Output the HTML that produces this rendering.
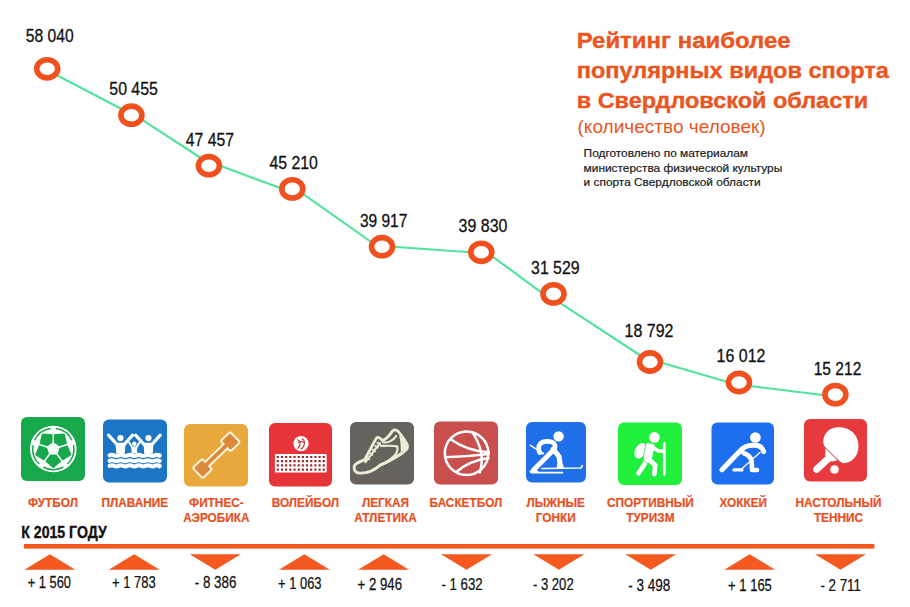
<!DOCTYPE html>
<html><head><meta charset="utf-8"><style>
html,body{margin:0;padding:0;background:#fff;}
body{width:910px;height:607px;overflow:hidden;position:relative;}
svg{position:absolute;left:0;top:0;}
</style></head><body>
<svg width="910" height="607" viewBox="0 0 910 607" font-family='"Liberation Sans", sans-serif'>

<path d="M57.4,75.5 L121.1,108.8 M141.5,119.4 L201.7,158.5 M219.7,165.6 L280.9,188.3 M302.6,193.6 L371.2,242.0 M392.9,246.8 L470.4,252.2 M491.6,255.8 L541.8,292.8 M559.2,302.4 L641.1,356.0 M660.8,362.5 L729.3,382.6 M749.7,386.0 L825.0,395.3 " fill="none" stroke="#4fe39c" stroke-width="2.1" stroke-linecap="round"/>
<ellipse cx="47.2" cy="68.8" rx="10.5" ry="9.1" fill="#fff" stroke="#f04f1e" stroke-width="5.6"/>
<ellipse cx="131.4" cy="115.2" rx="10.5" ry="9.1" fill="#fff" stroke="#f04f1e" stroke-width="5.6"/>
<ellipse cx="208.9" cy="165.7" rx="10.5" ry="9.1" fill="#fff" stroke="#f04f1e" stroke-width="5.6"/>
<ellipse cx="292.3" cy="188.9" rx="10.5" ry="9.1" fill="#fff" stroke="#f04f1e" stroke-width="5.6"/>
<ellipse cx="382.0" cy="246.7" rx="10.5" ry="9.1" fill="#fff" stroke="#f04f1e" stroke-width="5.6"/>
<ellipse cx="481.3" cy="252.3" rx="10.5" ry="9.1" fill="#fff" stroke="#f04f1e" stroke-width="5.6"/>
<ellipse cx="553.5" cy="293.9" rx="10.5" ry="9.1" fill="#fff" stroke="#f04f1e" stroke-width="5.6"/>
<ellipse cx="650.0" cy="362.0" rx="10.5" ry="9.1" fill="#fff" stroke="#f04f1e" stroke-width="5.6"/>
<ellipse cx="739.0" cy="382.5" rx="10.5" ry="9.1" fill="#fff" stroke="#f04f1e" stroke-width="5.6"/>
<ellipse cx="835.4" cy="394.6" rx="10.5" ry="9.1" fill="#fff" stroke="#f04f1e" stroke-width="5.6"/>
<text transform="translate(25.7,41.5) scale(0.842,1)" font-size="18.6" fill="#111" stroke="#111" stroke-width="0.3">58 040</text>
<text transform="translate(109.3,94.7) scale(0.854,1)" font-size="18.6" fill="#111" stroke="#111" stroke-width="0.3">50 455</text>
<text transform="translate(185.8,145.7) scale(0.849,1)" font-size="18.6" fill="#111" stroke="#111" stroke-width="0.3">47 457</text>
<text transform="translate(269.4,168.9) scale(0.851,1)" font-size="18.6" fill="#111" stroke="#111" stroke-width="0.3">45 210</text>
<text transform="translate(359.9,226.9) scale(0.835,1)" font-size="18.6" fill="#111" stroke="#111" stroke-width="0.3">39 917</text>
<text transform="translate(458.6,232.2) scale(0.858,1)" font-size="18.6" fill="#111" stroke="#111" stroke-width="0.3">39 830</text>
<text transform="translate(531.1,274.4) scale(0.852,1)" font-size="18.6" fill="#111" stroke="#111" stroke-width="0.3">31 529</text>
<text transform="translate(624.6,337.1) scale(0.858,1)" font-size="18.6" fill="#111" stroke="#111" stroke-width="0.3">18 792</text>
<text transform="translate(716.6,362.3) scale(0.858,1)" font-size="18.6" fill="#111" stroke="#111" stroke-width="0.3">16 012</text>
<text transform="translate(813.7,375.0) scale(0.838,1)" font-size="18.6" fill="#111" stroke="#111" stroke-width="0.3">15 212</text>
<g fill="#ea5520" stroke="#ea5520" stroke-width="0.35" font-weight="bold" font-size="21.5">
<text transform="translate(576.7,48.2) scale(1.115,1)">Рейтинг наиболее</text>
<text transform="translate(576.7,78.1) scale(1.095,1)">популярных видов спорта</text>
<text transform="translate(576.7,108.0) scale(1.092,1)">в Свердловской области</text>
</g>
<text transform="translate(577.5,133.0) scale(1.058,1)" font-size="18" fill="#ea5520">(количество человек)</text>
<g fill="#1a1a1a" stroke="#1a1a1a" stroke-width="0.2" font-size="11">
<text transform="translate(583.6,157.3) scale(1.08,1)">Подготовлено по материалам</text>
<text transform="translate(583.6,171.8) scale(1.08,1)">министерства физической культуры</text>
<text transform="translate(583.6,186.3) scale(1.08,1)">и спорта Свердловской области</text>
</g>
<g transform="translate(21.0,417.0)"><rect width="64.0" height="64.0" rx="6" fill="#17a84b"/><circle cx="32.3" cy="32.0" r="23.3" fill="#fff"/><path d="M34.81,11.55 A20.6,20.6 0 0 1 50.97,23.29" fill="none" stroke="#17a84b" stroke-width="1.5"/><path d="M52.52,28.07 A20.6,20.6 0 0 1 46.35,47.07" fill="none" stroke="#17a84b" stroke-width="1.5"/><path d="M42.29,50.02 A20.6,20.6 0 0 1 22.31,50.02" fill="none" stroke="#17a84b" stroke-width="1.5"/><path d="M18.25,47.07 A20.6,20.6 0 0 1 12.08,28.07" fill="none" stroke="#17a84b" stroke-width="1.5"/><path d="M13.63,23.29 A20.6,20.6 0 0 1 29.79,11.55" fill="none" stroke="#17a84b" stroke-width="1.5"/><polygon points="32.30,26.10 37.91,30.18 45.61,27.67 43.12,17.11 32.30,18.00" fill="#17a84b" stroke="#17a84b" stroke-width="1.3" stroke-linejoin="round"/><polygon points="37.91,30.18 35.77,36.77 40.53,43.33 49.80,37.69 45.61,27.67" fill="#17a84b" stroke="#17a84b" stroke-width="1.3" stroke-linejoin="round"/><polygon points="35.77,36.77 28.83,36.77 24.07,43.33 32.30,50.40 40.53,43.33" fill="#17a84b" stroke="#17a84b" stroke-width="1.3" stroke-linejoin="round"/><polygon points="28.83,36.77 26.69,30.18 18.99,27.67 14.80,37.69 24.07,43.33" fill="#17a84b" stroke="#17a84b" stroke-width="1.3" stroke-linejoin="round"/><polygon points="26.69,30.18 32.30,26.10 32.30,18.00 21.48,17.11 18.99,27.67" fill="#17a84b" stroke="#17a84b" stroke-width="1.3" stroke-linejoin="round"/><polygon points="32.30,26.10 37.91,30.18 35.77,36.77 28.83,36.77 26.69,30.18" fill="none" stroke="#fff" stroke-width="1.7"/><path d="M32.30,26.10 L32.30,9.00" stroke="#fff" stroke-width="1.5"/><path d="M37.91,30.18 L54.17,24.89" stroke="#fff" stroke-width="1.5"/><path d="M35.77,36.77 L45.82,50.61" stroke="#fff" stroke-width="1.5"/><path d="M28.83,36.77 L18.78,50.61" stroke="#fff" stroke-width="1.5"/><path d="M26.69,30.18 L10.43,24.89" stroke="#fff" stroke-width="1.5"/></g>
<g transform="translate(103.0,419.5)"><rect width="64.0" height="63.0" rx="6" fill="#1b77c5"/><circle cx="17.4" cy="18.6" r="3.1" fill="#fff"/><path d="M5.5,15.6 L14.5,25.5 M29.6,15.6 L20.8,25.5" stroke="#fff" stroke-width="3.2" stroke-linecap="round" fill="none"/><path d="M12.6,23.3 L22.4,23.3 L21.9,34 L13.2,34 Z" fill="#fff"/><circle cx="45.5" cy="18.6" r="3.1" fill="#fff"/><path d="M32.6,15.6 L41.5,25.5 M57.2,15.6 L48.5,25.5" stroke="#fff" stroke-width="3.2" stroke-linecap="round" fill="none"/><path d="M40.6,23.3 L50.4,23.3 L49.9,34 L41.2,34 Z" fill="#fff"/><circle cx="31.3" cy="24.3" r="2.2" fill="#fff"/><path d="M26.3,23.2 L29.3,28 M36.3,23.2 L33.3,28" stroke="#fff" stroke-width="2.1" stroke-linecap="round" fill="none"/><path d="M28.3,27 L34.3,27 L34,34 L28.6,34 Z" fill="#fff"/><path d="M6.60,35.90 Q8.85,34.80 11.10,35.90 Q13.35,37.00 15.60,35.90 Q17.85,34.80 20.10,35.90 Q22.35,37.00 24.60,35.90 Q26.85,34.80 29.10,35.90 Q31.35,37.00 33.60,35.90 Q35.85,34.80 38.10,35.90 Q40.35,37.00 42.60,35.90 Q44.85,34.80 47.10,35.90 Q49.35,37.00 51.60,35.90 Q53.85,34.80 56.10,35.90 Q56.45,37.00 56.80,35.90" stroke="#fff" stroke-width="4.0" stroke-linecap="round" fill="none"/><path d="M6.60,41.30 Q8.85,40.20 11.10,41.30 Q13.35,42.40 15.60,41.30 Q17.85,40.20 20.10,41.30 Q22.35,42.40 24.60,41.30 Q26.85,40.20 29.10,41.30 Q31.35,42.40 33.60,41.30 Q35.85,40.20 38.10,41.30 Q40.35,42.40 42.60,41.30 Q44.85,40.20 47.10,41.30 Q49.35,42.40 51.60,41.30 Q53.85,40.20 56.10,41.30 Q56.45,42.40 56.80,41.30" stroke="#fff" stroke-width="4.0" stroke-linecap="round" fill="none"/><path d="M6.60,46.40 Q8.85,45.30 11.10,46.40 Q13.35,47.50 15.60,46.40 Q17.85,45.30 20.10,46.40 Q22.35,47.50 24.60,46.40 Q26.85,45.30 29.10,46.40 Q31.35,47.50 33.60,46.40 Q35.85,45.30 38.10,46.40 Q40.35,47.50 42.60,46.40 Q44.85,45.30 47.10,46.40 Q49.35,47.50 51.60,46.40 Q53.85,45.30 56.10,46.40 Q56.45,47.50 56.80,46.40" stroke="#fff" stroke-width="4.0" stroke-linecap="round" fill="none"/></g>
<g transform="translate(184.0,424.0)"><rect width="64.0" height="62.5" rx="6" fill="#e9a83b"/><g transform="translate(32.4,31.1) rotate(-44)"><g fill="#fdf3dc" stroke="#fdf3dc" stroke-width="4" stroke-linejoin="round"><rect x="-16" y="-1.9" width="32" height="3.8"/><rect x="13.8" y="-6.2" width="11.2" height="12.4" rx="1"/><rect x="-25" y="-6.2" width="11.2" height="12.4" rx="1"/></g><g fill="#da8a3c"><rect x="-16" y="-1.9" width="32" height="3.8"/><rect x="13.8" y="-6.2" width="11.2" height="12.4" rx="1"/><rect x="-25" y="-6.2" width="11.2" height="12.4" rx="1"/></g></g></g>
<g transform="translate(269.0,423.0)"><rect width="63.0" height="63.5" rx="6" fill="#e63439"/><circle cx="32" cy="20.6" r="7.6" fill="#fff"/><g fill="none" stroke="#b8383a" stroke-width="1.1" stroke-linecap="round"><path d="M28.6,16.8 C30.5,17.5 31.5,19.5 30.8,22 C30.3,23.8 29.5,24.8 28.6,25.2"/><path d="M33.2,15.8 C35.5,17.3 35.8,20.5 34.6,23.2 C34,24.5 33,25.5 31.8,26"/><path d="M29.2,19.3 C30.8,18.4 32.8,18.4 34.8,19.3"/></g><rect x="5.9" y="31.1" width="51.8" height="18.5" rx="1" fill="#fff"/><g fill="#9a2428"><rect x="7.70" y="32.90" width="2.2" height="2.2" rx="0.4"/><rect x="11.88" y="32.90" width="2.2" height="2.2" rx="0.4"/><rect x="16.06" y="32.90" width="2.2" height="2.2" rx="0.4"/><rect x="20.24" y="32.90" width="2.2" height="2.2" rx="0.4"/><rect x="24.42" y="32.90" width="2.2" height="2.2" rx="0.4"/><rect x="28.60" y="32.90" width="2.2" height="2.2" rx="0.4"/><rect x="32.78" y="32.90" width="2.2" height="2.2" rx="0.4"/><rect x="36.96" y="32.90" width="2.2" height="2.2" rx="0.4"/><rect x="41.14" y="32.90" width="2.2" height="2.2" rx="0.4"/><rect x="45.32" y="32.90" width="2.2" height="2.2" rx="0.4"/><rect x="49.50" y="32.90" width="2.2" height="2.2" rx="0.4"/><rect x="53.68" y="32.90" width="2.2" height="2.2" rx="0.4"/><rect x="7.70" y="37.10" width="2.2" height="2.2" rx="0.4"/><rect x="11.88" y="37.10" width="2.2" height="2.2" rx="0.4"/><rect x="16.06" y="37.10" width="2.2" height="2.2" rx="0.4"/><rect x="20.24" y="37.10" width="2.2" height="2.2" rx="0.4"/><rect x="24.42" y="37.10" width="2.2" height="2.2" rx="0.4"/><rect x="28.60" y="37.10" width="2.2" height="2.2" rx="0.4"/><rect x="32.78" y="37.10" width="2.2" height="2.2" rx="0.4"/><rect x="36.96" y="37.10" width="2.2" height="2.2" rx="0.4"/><rect x="41.14" y="37.10" width="2.2" height="2.2" rx="0.4"/><rect x="45.32" y="37.10" width="2.2" height="2.2" rx="0.4"/><rect x="49.50" y="37.10" width="2.2" height="2.2" rx="0.4"/><rect x="53.68" y="37.10" width="2.2" height="2.2" rx="0.4"/><rect x="7.70" y="41.30" width="2.2" height="2.2" rx="0.4"/><rect x="11.88" y="41.30" width="2.2" height="2.2" rx="0.4"/><rect x="16.06" y="41.30" width="2.2" height="2.2" rx="0.4"/><rect x="20.24" y="41.30" width="2.2" height="2.2" rx="0.4"/><rect x="24.42" y="41.30" width="2.2" height="2.2" rx="0.4"/><rect x="28.60" y="41.30" width="2.2" height="2.2" rx="0.4"/><rect x="32.78" y="41.30" width="2.2" height="2.2" rx="0.4"/><rect x="36.96" y="41.30" width="2.2" height="2.2" rx="0.4"/><rect x="41.14" y="41.30" width="2.2" height="2.2" rx="0.4"/><rect x="45.32" y="41.30" width="2.2" height="2.2" rx="0.4"/><rect x="49.50" y="41.30" width="2.2" height="2.2" rx="0.4"/><rect x="53.68" y="41.30" width="2.2" height="2.2" rx="0.4"/><rect x="7.70" y="45.50" width="2.2" height="2.2" rx="0.4"/><rect x="11.88" y="45.50" width="2.2" height="2.2" rx="0.4"/><rect x="16.06" y="45.50" width="2.2" height="2.2" rx="0.4"/><rect x="20.24" y="45.50" width="2.2" height="2.2" rx="0.4"/><rect x="24.42" y="45.50" width="2.2" height="2.2" rx="0.4"/><rect x="28.60" y="45.50" width="2.2" height="2.2" rx="0.4"/><rect x="32.78" y="45.50" width="2.2" height="2.2" rx="0.4"/><rect x="36.96" y="45.50" width="2.2" height="2.2" rx="0.4"/><rect x="41.14" y="45.50" width="2.2" height="2.2" rx="0.4"/><rect x="45.32" y="45.50" width="2.2" height="2.2" rx="0.4"/><rect x="49.50" y="45.50" width="2.2" height="2.2" rx="0.4"/><rect x="53.68" y="45.50" width="2.2" height="2.2" rx="0.4"/></g></g>
<g transform="translate(350.0,422.0)"><rect width="64.0" height="62.5" rx="6" fill="#67625d"/><path d="M4.08,45.16 C4.08,41.98 8.16,40.17 14.51,37.90 L26.29,16.15 C27.65,14.79 30.37,15.69 32.18,18.41 C36.26,17.96 39.89,12.97 42.61,8.89 C45.33,6.63 48.50,8.44 51.22,13.43 C55.30,18.87 58.93,23.40 57.12,26.57 C53.49,31.11 40.80,39.26 29.92,43.34 C25.39,47.42 18.13,51.50 9.07,51.05 C5.44,50.60 4.08,48.33 4.08,45.16 Z" fill="none" stroke="#efebd6" stroke-width="2.8" stroke-linejoin="round"/><path d="M48.96,12.97 C54.40,18.41 58.02,22.95 57.12,26.12 L50.77,30.20 C50.77,25.67 50.77,19.32 48.96,12.97 Z" fill="#efebd6"/><path d="M20.85,50.14 C27.20,45.61 40.80,39.26 54.40,30.20 L50.77,30.20 C40.80,36.54 29.92,41.08 20.85,50.14 Z" fill="#efebd6"/><path d="M15.41,40.17 L29.92,21.13" stroke="#efebd6" stroke-width="2.2" fill="none" stroke-linecap="round"/><path d="M15.87,35.18 L19.95,37.90" stroke="#efebd6" stroke-width="1.6"/><path d="M19.04,30.65 L23.12,33.37" stroke="#efebd6" stroke-width="1.6"/><path d="M21.76,27.03 L25.84,29.75" stroke="#efebd6" stroke-width="1.6"/><path d="M24.48,23.40 L28.56,26.12" stroke="#efebd6" stroke-width="1.6"/><path d="M26.75,20.23 L30.83,22.95" stroke="#efebd6" stroke-width="1.6"/><path d="M30.83,23.85 C36.26,23.85 43.52,23.40 47.14,24.31 C48.96,30.20 43.52,37.45 29.92,42.89" stroke="#efebd6" stroke-width="2.2" fill="none" stroke-linecap="round"/><path d="M33.09,20.23 C38.08,21.13 43.52,18.41 46.24,13.88" stroke="#efebd6" stroke-width="2.0" fill="none" stroke-linecap="round"/></g>
<g transform="translate(434.0,421.6)"><rect width="64.0" height="63.0" rx="6" fill="#c94f4f"/><g fill="none" stroke="#fff" stroke-width="2.5" stroke-linecap="round"><circle cx="32.6" cy="31.6" r="21.8"/><path d="M11,35.6 Q33,35 54.5,32.3"/><path d="M16.2,17.5 Q34,30 54.8,30.6"/><path d="M22.6,50.2 Q36,39 54.6,36.5"/><path d="M38.3,10.5 Q52,31 45.8,50.8"/></g></g>
<g transform="translate(526.0,422.0)"><rect width="60.0" height="60.5" rx="6" fill="#1f70e9"/><circle cx="32.6" cy="14.4" r="5.2" fill="#fff"/><path d="M4.3,23.3 L17.5,31.5" stroke="#fff" stroke-width="1.4" stroke-linecap="round"/><path d="M13.8,30.6 C12.4,28 12,24 14.6,21.4 C17,19 23,18.8 26.6,20.4 C29.5,21.8 29.6,25 28,27.5 L7.5,48" stroke="#fff" stroke-width="4.8" fill="none" stroke-linecap="round" stroke-linejoin="round"/><path d="M13.5,30.8 L16.5,31.3" stroke="#fff" stroke-width="2.2" stroke-linecap="round"/><path d="M27.2,27.2 L33,34.5 L34.3,43.5" stroke="#fff" stroke-width="5.2" fill="none" stroke-linecap="round" stroke-linejoin="round"/><path d="M31.3,42 L37,42.3 L38,46.4 L30.6,46.4 Z" fill="#fff"/><path d="M5.5,50.6 L36.5,50.6" stroke="#fff" stroke-width="1.6" stroke-linecap="round"/><path d="M4.8,49.6 L11,49.6" stroke="#fff" stroke-width="2.6" stroke-linecap="round"/><path d="M16,46.5 L55,46 L56.3,43.6" stroke="#fff" stroke-width="1.6" fill="none" stroke-linecap="round" stroke-linejoin="round"/></g>
<g transform="translate(618.0,422.5)"><rect width="64.0" height="62.5" rx="6" fill="#20ef3c"/><circle cx="36.4" cy="14.9" r="5.3" fill="#fff"/><ellipse cx="22.3" cy="28.3" rx="5.2" ry="8.3" transform="rotate(25 22.3 28.3)" fill="#fff"/><path d="M28.5,20.8 L34.5,21.2 C36.5,21.5 37,23.5 36.3,25.5 L33.2,38.5 C32.5,40.5 30,41 28,40 L25.5,38 C25,33 26.5,26 27.5,22 Z" fill="#fff"/><path d="M34.8,24.6 L40.5,28.8 L45.5,28.5" stroke="#fff" stroke-width="3.6" fill="none" stroke-linecap="round" stroke-linejoin="round"/><path d="M46.3,21 L46.3,52" stroke="#fff" stroke-width="2.8" stroke-linecap="round"/><path d="M28.5,38.5 L20.5,50.8" stroke="#fff" stroke-width="4.8" stroke-linecap="round"/><path d="M31.5,37.5 L37.3,42.8 L36.3,51.5" stroke="#fff" stroke-width="4.8" fill="none" stroke-linecap="round" stroke-linejoin="round"/><path d="M27.8,21.5 L25,37 L30,41.5" stroke="#16b52e" stroke-width="0.55" fill="none"/></g>
<g transform="translate(711.5,422.5)"><rect width="62.5" height="62.0" rx="6" fill="#1e6ff0"/><circle cx="43.9" cy="15" r="5.35" fill="#fff"/><path d="M10.5,47.2 L29,28 C33,23.5 38,22.5 43,22.8 C48,23 51,25 52.2,29" stroke="#fff" stroke-width="5" fill="none" stroke-linecap="round" stroke-linejoin="round"/><path d="M32,30.5 C36.5,32 39.5,35 40.2,39 L40.5,47.5 L45.5,47.5" stroke="#fff" stroke-width="4.6" fill="none" stroke-linecap="round" stroke-linejoin="round"/><path d="M48.5,30 L29.5,47" stroke="#fff" stroke-width="1.3" stroke-linecap="round"/><path d="M22.5,47.4 L30.5,47.4" stroke="#fff" stroke-width="3.2" stroke-linecap="round"/></g>
<g transform="translate(804.0,419.0)"><rect width="63.0" height="62.5" rx="6" fill="#e63a3f"/><path d="M20.5,27.5 C17,20 22,9 33,8.3 C45,7.5 54.5,15 54.5,27 C54.5,37 48,44 40,44.2 C37,44.3 35.5,42 33.5,40 Z" fill="#fff"/><path d="M21.5,28.5 L34,41 L29,42.5 L24,42 L21.2,36.5 Z" fill="#fff"/><path d="M26,38 L12.6,50.3" stroke="#fff" stroke-width="7" stroke-linecap="round"/><path d="M20.8,28.2 L34,41.5" stroke="#b02a2e" stroke-width="0.8"/><circle cx="30.5" cy="50.5" r="4.3" fill="#fff"/></g>
<g fill="#e8511f" stroke="#e8511f" stroke-width="0.2" font-weight="bold" font-size="12" text-anchor="middle">
<text transform="translate(53.0,507.3) scale(0.985,1)">ФУТБОЛ</text>
<text transform="translate(134.9,507.3) scale(0.985,1)">ПЛАВАНИЕ</text>
<text transform="translate(216.4,507.3) scale(0.985,1)">ФИТНЕС-</text>
<text transform="translate(216.4,522.3) scale(0.985,1)">АЭРОБИКА</text>
<text transform="translate(305.4,507.3) scale(0.985,1)">ВОЛЕЙБОЛ</text>
<text transform="translate(385.5,507.3) scale(0.985,1)">ЛЕГКАЯ</text>
<text transform="translate(385.5,522.3) scale(0.985,1)">АТЛЕТИКА</text>
<text transform="translate(466.0,507.3) scale(0.985,1)">БАСКЕТБОЛ</text>
<text transform="translate(555.7,507.3) scale(0.985,1)">ЛЫЖНЫЕ</text>
<text transform="translate(555.7,522.3) scale(0.985,1)">ГОНКИ</text>
<text transform="translate(650.4,507.3) scale(0.985,1)">СПОРТИВНЫЙ</text>
<text transform="translate(650.4,522.3) scale(0.985,1)">ТУРИЗМ</text>
<text transform="translate(743.3,507.3) scale(0.985,1)">ХОККЕЙ</text>
<text transform="translate(838.5,507.3) scale(0.985,1)">НАСТОЛЬНЫЙ</text>
<text transform="translate(838.5,522.3) scale(0.985,1)">ТЕННИС</text>
</g>
<text transform="translate(21.3,537.6) scale(0.83,1)" font-size="17" font-weight="bold" fill="#111" stroke="#111" stroke-width="0.4">К 2015 ГОДУ</text>
<rect x="23.9" y="544" width="850.5" height="4.6" fill="#f5591f"/>
<polygon points="24.4,569.7 49.9,554.3 75.4,569.7" fill="#f5591f"/>
<polygon points="108.7,569.7 134.2,554.3 159.7,569.7" fill="#f5591f"/>
<polygon points="189.8,554.3 240.8,554.3 215.3,569.7" fill="#f5591f"/>
<polygon points="278.9,569.7 304.4,554.3 329.9,569.7" fill="#f5591f"/>
<polygon points="358.1,569.7 383.6,554.3 409.1,569.7" fill="#f5591f"/>
<polygon points="441.0,554.3 492.0,554.3 466.5,569.7" fill="#f5591f"/>
<polygon points="533.4,554.3 584.4,554.3 558.9,569.7" fill="#f5591f"/>
<polygon points="625.3,554.3 676.3,554.3 650.8,569.7" fill="#f5591f"/>
<polygon points="724.2,569.7 749.7,554.3 775.2,569.7" fill="#f5591f"/>
<polygon points="815.0,554.3 866.0,554.3 840.5,569.7" fill="#f5591f"/>
<text transform="translate(27.7,587.8) scale(0.775,1)" font-size="16.6" fill="#111" stroke="#111" stroke-width="0.25">+ 1 560</text>
<text transform="translate(112.1,587.8) scale(0.783,1)" font-size="16.6" fill="#111" stroke="#111" stroke-width="0.25">+ 1 783</text>
<text transform="translate(194.7,587.8) scale(0.807,1)" font-size="16.6" fill="#111" stroke="#111" stroke-width="0.25">- 8 386</text>
<text transform="translate(278.0,589.1) scale(0.781,1)" font-size="16.6" fill="#111" stroke="#111" stroke-width="0.25">+ 1 063</text>
<text transform="translate(357.6,590.4) scale(0.795,1)" font-size="16.6" fill="#111" stroke="#111" stroke-width="0.25">+ 2 946</text>
<text transform="translate(441.4,590.4) scale(0.801,1)" font-size="16.6" fill="#111" stroke="#111" stroke-width="0.25">- 1 632</text>
<text transform="translate(532.9,590.4) scale(0.790,1)" font-size="16.6" fill="#111" stroke="#111" stroke-width="0.25">- 3 202</text>
<text transform="translate(628.3,590.8) scale(0.815,1)" font-size="16.6" fill="#111" stroke="#111" stroke-width="0.25">- 3 498</text>
<text transform="translate(728.1,590.8) scale(0.784,1)" font-size="16.6" fill="#111" stroke="#111" stroke-width="0.25">+ 1 165</text>
<text transform="translate(820.4,590.7) scale(0.803,1)" font-size="16.6" fill="#111" stroke="#111" stroke-width="0.25">- 2 711</text>
</svg></body></html>
